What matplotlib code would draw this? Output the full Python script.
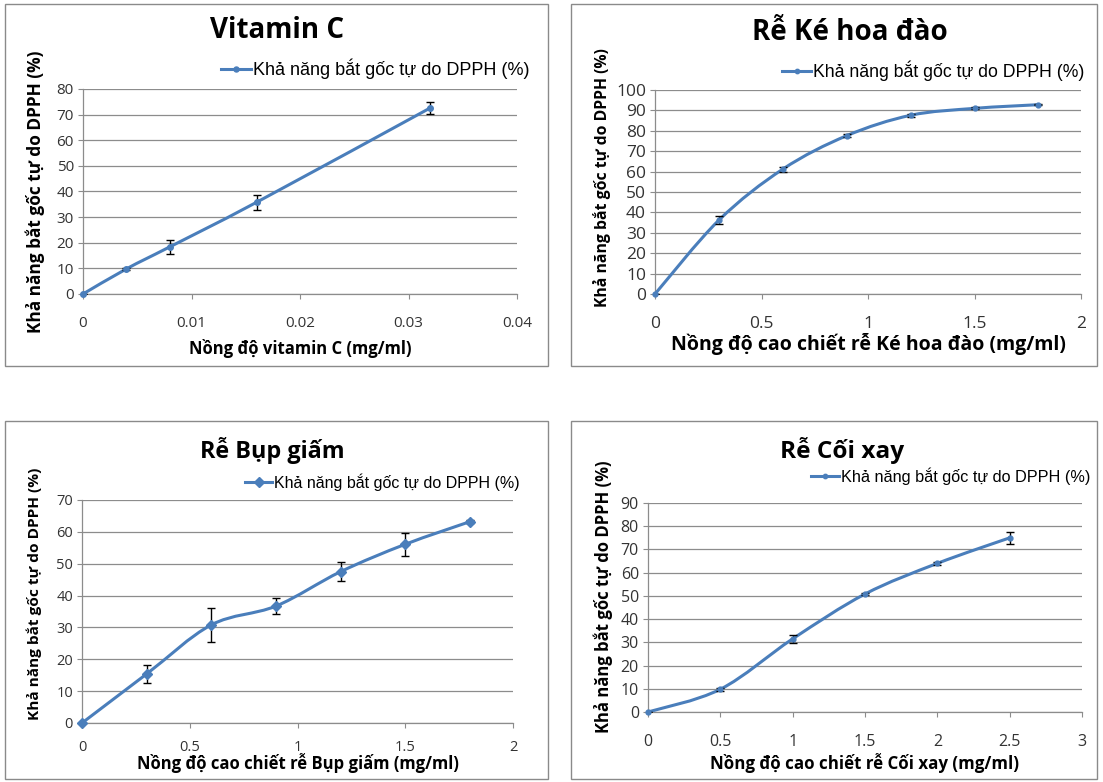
import matplotlib
matplotlib.use("Agg")
import matplotlib.pyplot as plt
from matplotlib.path import Path
from matplotlib.patches import PathPatch, Rectangle

# ---------------- data ----------------
legend_label = "Khả năng bắt gốc tự do DPPH (%)"
ylabel_text = "Khả năng bắt gốc tự do DPPH (%)"

vitc_x = [0, 0.004, 0.008, 0.016, 0.032]
vitc_y = [0, 9.8, 18.4, 35.8, 72.6]
vitc_err = [0, 0.5, 2.7, 3.0, 2.3]

ke_x = [0, 0.3, 0.6, 0.9, 1.2, 1.5, 1.8]
ke_y = [0, 36.2, 61.2, 77.6, 87.6, 91.0, 92.8]
ke_err = [0, 2.0, 1.2, 0.8, 0.6, 0.5, 0.3]

bup_x = [0, 0.3, 0.6, 0.9, 1.2, 1.5, 1.8]
bup_y = [0, 15.4, 30.8, 36.7, 47.5, 56.1, 63.2]
bup_err = [0, 2.7, 5.3, 2.5, 3.0, 3.6, 0.5]

coi_x = [0, 0.5, 1.0, 1.5, 2.0, 2.5]
coi_y = [0, 9.8, 31.5, 50.8, 64.0, 75.0]
coi_err = [0, 0.6, 1.7, 0.4, 0.7, 2.6]

panels = [
    dict(title="Vitamin C", x=vitc_x, y=vitc_y, err=vitc_err,
         xlabel="Nồng độ vitamin C (mg/ml)",
         xlim=(0, 0.04), xticks=[0, 0.01, 0.02, 0.03, 0.04],
         xticklabels=["0", "0.01", "0.02", "0.03", "0.04"],
         ylim=(0, 80), yticks=list(range(0, 81, 10)), marker="o", ms=4,
         rect=(83, 89, 517, 294), box=(5, 4, 548, 366),
         title_xy=(277, 31), title_fs=20,
         leg_xy=(221, 69), leg_fs=13, handle=1.65,
         tick_fs=11, xpad=12,
         ylab_xy=(35, 192), ylab_fs=12.4, xlab_y=348, xlab_fs=12),
    dict(title="Rễ Ké hoa đào", x=ke_x, y=ke_y, err=ke_err,
         xlabel="Nồng độ cao chiết rễ Ké hoa đào (mg/ml)",
         xlim=(0, 2), xticks=[0, 0.5, 1, 1.5, 2],
         xticklabels=["0", "0.5", "1", "1.5", "2"],
         ylim=(0, 100), yticks=list(range(0, 101, 10)), marker="o", ms=3.5,
         rect=(655, 90, 1081, 294), box=(571, 4, 1097, 366),
         title_xy=(850, 33), title_fs=20,
         leg_xy=(782, 71), leg_fs=12.7, handle=1.65,
         tick_fs=12.5, xpad=12,
         ylab_xy=(602, 178), ylab_fs=11.3, xlab_y=344, xlab_fs=14),
    dict(title="Rễ Bụp giấm", x=bup_x, y=bup_y, err=bup_err,
         xlabel="Nồng độ cao chiết rễ Bụp giấm (mg/ml)",
         xlim=(0, 2), xticks=[0, 0.5, 1, 1.5, 2],
         xticklabels=["0", "0.5", "1", "1.5", "2"],
         ylim=(0, 70), yticks=list(range(0, 71, 10)), marker="D", ms=5.5,
         rect=(82, 500, 513, 723), box=(5, 421, 548, 779),
         title_xy=(272, 451), title_fs=16.8,
         leg_xy=(245, 482), leg_fs=11.5, handle=1.7,
         tick_fs=10.5, xpad=8.5,
         ylab_xy=(34, 594), ylab_fs=11.1, xlab_y=763, xlab_fs=12),
    dict(title="Rễ Cối xay", x=coi_x, y=coi_y, err=coi_err,
         xlabel="Nồng độ cao chiết rễ Cối xay (mg/ml)",
         xlim=(0, 3), xticks=[0, 0.5, 1, 1.5, 2, 2.5, 3],
         xticklabels=["0", "0.5", "1", "1.5", "2", "2.5", "3"],
         ylim=(0, 90), yticks=list(range(0, 91, 10)), marker="o", ms=3.5,
         rect=(648, 503, 1082, 712), box=(571, 421, 1097, 779),
         title_xy=(842, 450), title_fs=17.6,
         leg_xy=(811, 476), leg_fs=11.7, handle=1.7,
         tick_fs=11.5, xpad=12.5,
         ylab_xy=(603, 597), ylab_fs=12, xlab_y=763, xlab_fs=12.2),
]

LINE = "#4A7EBB"
GRID = "#8C8C8C"
TICKC = "#333333"
W, H = 1103, 782
fig = plt.figure(figsize=(W / 100, H / 100), dpi=100)
fig.patch.set_facecolor("white")

TITLE_FONT = ["Open Sans", "DejaVu Sans"]
LABEL_FONT = ["Open Sans", "DejaVu Sans"]
TICK_FONT = ["Open Sans", "DejaVu Sans"]
LEG_FONT = ["Liberation Sans", "DejaVu Sans"]


def fx(px):
    return px / W


def fy(py):
    return 1 - py / H


def smooth_path(xs, ys):
    # Excel-style smoothed line (cubic Bezier through the data points)
    n = len(xs)
    verts = [(xs[0], ys[0])]
    codes = [Path.MOVETO]
    for i in range(n - 1):
        x0, y0 = (xs[i - 1], ys[i - 1]) if i > 0 else (xs[i], ys[i])
        x1, y1 = xs[i], ys[i]
        x2, y2 = xs[i + 1], ys[i + 1]
        x3, y3 = (xs[i + 2], ys[i + 2]) if i + 2 < n else (xs[i + 1], ys[i + 1])
        c1 = (x1 + (x2 - x0) / 6, y1 + (y2 - y0) / 6)
        c2 = (x2 - (x3 - x1) / 6, y2 - (y3 - y1) / 6)
        verts += [c1, c2, (x2, y2)]
        codes += [Path.CURVE4] * 3
    return Path(verts, codes)


for p in panels:
    # panel frame
    bx0, by0, bx1, by1 = p["box"]
    fig.patches.append(Rectangle((fx(bx0), fy(by1)), fx(bx1 - bx0), (by1 - by0) / H,
                                 transform=fig.transFigure, fill=False,
                                 edgecolor="#8a8a8a", linewidth=1.0))
    l, t, r, b = p["rect"]
    ax = fig.add_axes([fx(l), fy(b), fx(r - l), (b - t) / H])
    ax.set_xlim(*p["xlim"])
    ax.set_ylim(*p["ylim"])
    ax.set_xticks(p["xticks"])
    ax.set_xticklabels(p["xticklabels"], fontfamily=TICK_FONT, fontsize=p["tick_fs"],
                       color=TICKC)
    ax.set_yticks(p["yticks"])
    ax.set_yticklabels([str(v) for v in p["yticks"]], fontfamily=TICK_FONT,
                       fontsize=p["tick_fs"], color=TICKC)
    ax.grid(axis="y", color=GRID, linewidth=0.9)
    ax.set_axisbelow(True)
    for s in ["top", "right"]:
        ax.spines[s].set_visible(False)
    for s in ["left", "bottom"]:
        ax.spines[s].set_color(GRID)
        ax.spines[s].set_linewidth(0.9)
    ax.tick_params(axis="x", direction="out", length=3.5, color=GRID, pad=p["xpad"])
    ax.tick_params(axis="y", direction="out", length=3.5, color=GRID, pad=3)

    # smoothed line
    ax.add_patch(PathPatch(smooth_path(p["x"], p["y"]), fill=False,
                           edgecolor=LINE, linewidth=2.2, zorder=3,
                           capstyle="round", joinstyle="round"))
    # markers + error bars
    ax.errorbar(p["x"], p["y"], yerr=p["err"], fmt="none", ecolor="black",
                elinewidth=1.0, capsize=3, capthick=1.0, zorder=4)
    ax.plot(p["x"], p["y"], linestyle="none", marker=p["marker"], ms=p["ms"],
            color=LINE, zorder=5, clip_on=False)
    # legend proxy
    proxy, = ax.plot([], [], color=LINE, linewidth=2.2, marker=p["marker"],
                     ms=p["ms"] * 0.9)
    lx, ly = p["leg_xy"]
    ax.legend([proxy], [legend_label], loc="center left",
              bbox_to_anchor=(fx(lx), fy(ly)), bbox_transform=fig.transFigure,
              frameon=False, handlelength=p["handle"], handletextpad=0.12,
              borderpad=0, borderaxespad=0,
              prop=dict(family=LEG_FONT, size=p["leg_fs"]))

    tx, ty = p["title_xy"]
    fig.text(fx(tx), fy(ty), p["title"], ha="center", va="center",
             fontfamily=TITLE_FONT, fontweight="bold", fontsize=p["title_fs"])
    fig.text(fx((l + r) / 2), fy(p["xlab_y"]), p["xlabel"], ha="center", va="center",
             fontfamily=LABEL_FONT, fontweight="bold", fontsize=p["xlab_fs"])
    yx, yy = p["ylab_xy"]
    fig.text(fx(yx), fy(yy), ylabel_text, ha="center", va="center",
             rotation=90, fontfamily=LABEL_FONT, fontweight="bold",
             fontsize=p["ylab_fs"])

fig.savefig("out.png", dpi=100, facecolor="white")
